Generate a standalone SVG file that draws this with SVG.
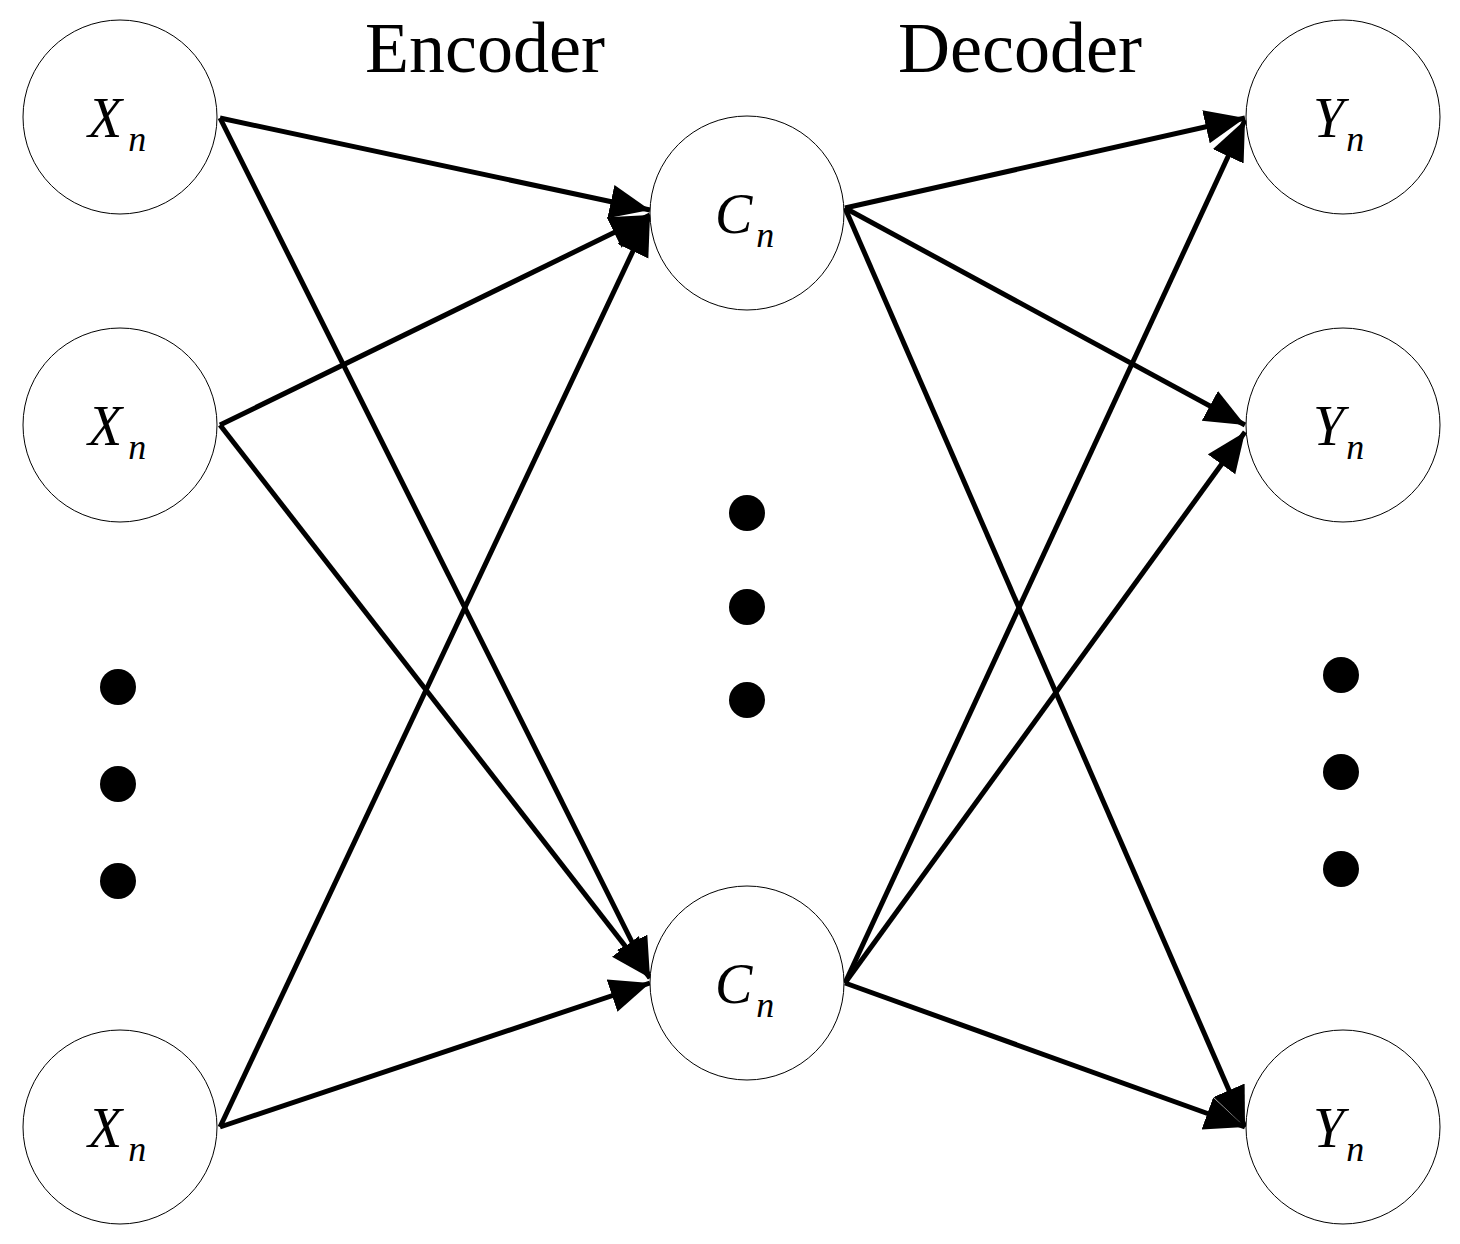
<svg xmlns="http://www.w3.org/2000/svg" width="1460" height="1244" viewBox="0 0 1460 1244">
<style>
.n{fill:#fff;stroke:#000;stroke-width:1}
.t{font-family:"Liberation Serif",serif;font-style:italic;font-size:56px}
.s{font-size:36px}
.h{font-family:"Liberation Serif",serif;font-size:72px}
.e{stroke:#000;stroke-width:5;fill:none;marker-end:url(#a)}
</style>
<defs><marker id="a" markerUnits="userSpaceOnUse" markerWidth="44" markerHeight="36" refX="40" refY="17" orient="auto"><path d="M0,0 L40,17 L0,34 Z" fill="#000"/></marker></defs>
<rect width="1460" height="1244" fill="#fff"/>
<text class="h" x="485" y="72" text-anchor="middle">Encoder</text>
<text class="h" x="1020" y="72" text-anchor="middle">Decoder</text>
<g id="edges">
<line class="e" x1="220" y1="118" x2="650" y2="210"/>
<line class="e" x1="220" y1="118" x2="650" y2="978"/>
<line class="e" x1="220" y1="425" x2="650" y2="215"/>
<line class="e" x1="220" y1="425" x2="650" y2="978"/>
<line class="e" x1="220" y1="1127" x2="650" y2="215"/>
<line class="e" x1="220" y1="1127" x2="650" y2="983"/>
<line class="e" x1="845" y1="208" x2="1245" y2="118"/>
<line class="e" x1="845" y1="208" x2="1245" y2="425"/>
<line class="e" x1="845" y1="208" x2="1245" y2="1127"/>
<line class="e" x1="845" y1="983" x2="1245" y2="120"/>
<line class="e" x1="845" y1="983" x2="1245" y2="432"/>
<line class="e" x1="845" y1="983" x2="1245" y2="1127"/>
</g>
<g id="x1"><circle class="n" cx="120" cy="117" r="97"/><text class="t" x="88" y="137">X<tspan class="s" dx="6" dy="14">n</tspan></text></g>
<g id="x2"><circle class="n" cx="120" cy="425" r="97"/><text class="t" x="88" y="445">X<tspan class="s" dx="6" dy="14">n</tspan></text></g>
<g id="x3"><circle class="n" cx="120" cy="1127" r="97"/><text class="t" x="88" y="1147">X<tspan class="s" dx="6" dy="14">n</tspan></text></g>
<g id="c1"><circle class="n" cx="747" cy="213" r="97"/><text class="t" x="715" y="233">C<tspan class="s" dx="4" dy="14">n</tspan></text></g>
<g id="c2"><circle class="n" cx="747" cy="983" r="97"/><text class="t" x="715" y="1003">C<tspan class="s" dx="4" dy="14">n</tspan></text></g>
<g id="y1"><circle class="n" cx="1343" cy="117" r="97"/><text class="t" x="1313" y="137">Y<tspan class="s" dx="2" dy="14">n</tspan></text></g>
<g id="y2"><circle class="n" cx="1343" cy="425" r="97"/><text class="t" x="1313" y="445">Y<tspan class="s" dx="2" dy="14">n</tspan></text></g>
<g id="y3"><circle class="n" cx="1343" cy="1127" r="97"/><text class="t" x="1313" y="1147">Y<tspan class="s" dx="2" dy="14">n</tspan></text></g>
<g id="dots">
<circle cx="118" cy="687" r="18"/><circle cx="118" cy="784" r="18"/><circle cx="118" cy="881" r="18"/>
<circle cx="747" cy="513" r="18"/><circle cx="747" cy="607" r="18"/><circle cx="747" cy="700" r="18"/>
<circle cx="1341" cy="675" r="18"/><circle cx="1341" cy="772" r="18"/><circle cx="1341" cy="869" r="18"/>
</g>
</svg>
